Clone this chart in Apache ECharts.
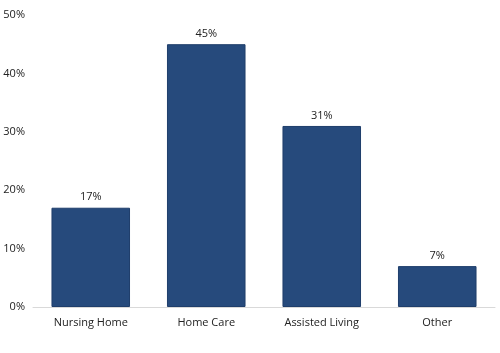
<!DOCTYPE html>
<html>
<head>
<meta charset="utf-8">
<script src="https://cdn.jsdelivr.net/npm/echarts@6/dist/echarts.min.js"></script>
<style>
  html, body { margin: 0; padding: 0; background: #fff; }
  #chart { width: 500px; height: 353px; }
</style>
</head>
<body>
<div id="chart"></div>
<script>
const categories = ['Nursing Home', 'Home Care', 'Assisted Living', 'Other']
const shares = [17, 45, 31, 7]
const yTicks = [0, 10, 20, 30, 40, 50]

const chart = echarts.init(document.getElementById('chart'))

chart.setOption({
  animation: false,
  textStyle: { fontFamily: 'Open Sans, sans-serif' },
  grid: { left: 33, right: 5, top: 15, bottom: 46 },
  xAxis: {
    type: 'category',
    data: categories,
    axisLine: { lineStyle: { color: '#d9d9d9' } },
    axisTick: { show: false },
    axisLabel: { color: '#222', fontSize: 11, margin: 10 }
  },
  yAxis: {
    type: 'value',
    min: yTicks[0],
    max: yTicks[yTicks.length - 1],
    interval: 10,
    splitLine: { show: false },
    axisLine: { show: false },
    axisTick: { show: false },
    axisLabel: { color: '#222', fontSize: 11, margin: 8, formatter: '{value}%' }
  },
  series: [{
    type: 'bar',
    data: shares,
    barWidth: '68%',
    itemStyle: { color: '#264a7c', borderColor: '#1f3e6b', borderWidth: 1 },
    label: {
      show: true,
      position: 'top',
      color: '#222',
      fontSize: 11,
      distance: 5,
      formatter: '{c}%'
    }
  }]
})
</script>
</body>
</html>
